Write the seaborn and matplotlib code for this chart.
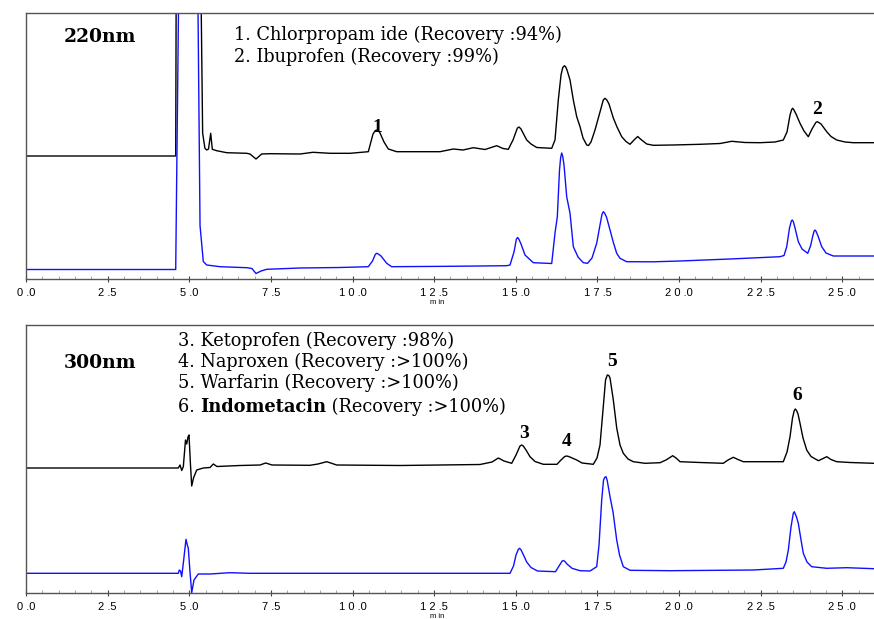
import numpy as np
import pandas as pd
import matplotlib
matplotlib.use("Agg")
import matplotlib.pyplot as plt
import seaborn as sns

# ---------------- data (retention time in min, detector signal above baseline) ----------------
t220_black = [0.0, 4.585, 4.62, 5.277, 5.41, 5.48, 5.535, 5.59, 5.657, 5.706, 5.84, 6.147, 6.76, 6.86,
              7.044, 7.219, 7.473, 8.392, 8.79, 9.311, 9.923, 10.484, 10.628, 10.70, 10.741, 10.80, 10.842, 10.965,
              11.097, 11.354, 12.68, 13.087, 13.384, 13.70, 14.058, 14.417, 14.61, 14.772, 14.916,
              15.05, 15.10, 15.16, 15.335, 15.467, 15.642, 16.101, 16.202, 16.303, 16.386, 16.44, 16.493, 16.53, 16.57, 16.662,
              16.763, 16.867, 16.968, 17.06, 17.173, 17.228, 17.305, 17.427, 17.58, 17.68, 17.734, 17.79, 17.856,
              17.988, 18.101, 18.245, 18.377, 18.499, 18.622, 18.735, 18.836, 19.011, 19.213, 19.816,
              20.643, 21.256, 21.614, 22.021, 22.481, 22.94, 23.194, 23.308, 23.40, 23.45, 23.482, 23.52, 23.583,
              23.706, 23.828, 23.96, 24.073, 24.19, 24.236, 24.28, 24.349, 24.524, 24.655, 24.83, 25.084, 25.338, 25.972]
s220_black = [0, 0, 400, 400, 23, 7.7, 6, 7, 22.7, 6.7, 5.3, 3.3, 2.7, 2,
              -3, 2, 2.3, 2, 3.7, 2.7, 2.7, 4.3, 22, 25.5, 26, 25, 23, 14,
              7, 4.3, 4.3, 7, 6, 8.3, 6.5, 10.3, 7.5, 6.7, 16,
              28, 29, 27, 16, 12, 8.5, 7.7, 16, 56, 81, 88.5, 90.3, 89, 86, 76,
              56, 39.3, 29.3, 18, 11, 10.5, 14, 26, 44, 56, 57.7, 56, 52,
              38, 29, 19.3, 14.5, 11.7, 16, 19.5, 16.5, 12, 10.7, 11,
              11.7, 12.5, 14.7, 13.5, 13.3, 14, 16, 24, 41, 46.5, 47.7, 46, 42,
              32.7, 25, 19.3, 27, 33.5, 34.3, 33.5, 32, 24.3, 19.5, 16, 14, 13.3, 13.3]

t220_blue = [0.0, 4.585, 4.717, 5.228, 5.33, 5.43, 5.535, 5.942, 6.76, 6.92, 7.044, 7.20, 7.372, 8.392,
             9.617, 10.484, 10.613, 10.70, 10.741, 10.79, 10.873, 11.047, 11.20, 12.986, 14.723, 14.824, 14.946,
             15.02, 15.06, 15.10, 15.161, 15.283, 15.538, 16.101, 16.202, 16.273, 16.34, 16.375, 16.407, 16.44, 16.478, 16.56,
             16.662, 16.763, 16.907, 17.069, 17.198, 17.335, 17.479, 17.58, 17.64, 17.681, 17.72, 17.779, 17.887,
             17.994, 18.092, 18.193, 18.398, 19.213, 20.031, 21.562, 23.094, 23.216, 23.299, 23.384,
             23.44, 23.47, 23.50, 23.553, 23.654, 23.767, 23.942, 24.028, 24.104, 24.14, 24.165, 24.20, 24.257, 24.371, 24.502,
             24.726, 25.972]
s220_blue = [0, 0, 400, 400, 44, 8, 4.5, 2.8, 1.8, 1, -4, -1.5, 0.2, 1.5,
             2, 2.8, 8.5, 15.2, 16.2, 15.5, 13.5, 6.2, 2.8, 3.2, 3.8, 4.5, 17.5,
             30.5, 32, 30, 25.5, 14.5, 6.8, 6, 36.5, 52.8, 99.5, 112, 116.5, 113, 104.5, 72.8,
             56.2, 22.8, 12.5, 6.8, 6.2, 11.5, 26.2, 44.5, 55, 57.8, 56.5, 52.5, 39.5,
             26.5, 16.2, 11.2, 7.8, 7.7, 8.5, 10.5, 12.8, 14, 22.8, 41.5,
             48.5, 49.5, 48, 41.5, 27.8, 20.5, 16.2, 23.5, 34.5, 38.5, 39.5, 38, 33.5, 22.8, 16.5,
             13.5, 13.5]

t300_black = [0.0, 4.665, 4.717, 4.769, 4.818, 4.885, 4.922, 4.962, 4.992, 5.038, 5.075, 5.13, 5.228,
              5.43, 5.636, 5.737, 5.85, 6.554, 7.167, 7.341, 7.534, 8.698, 8.943, 9.21, 9.516, 11.455,
              13.905, 14.273, 14.466, 14.64, 14.876, 15.008, 15.13, 15.182, 15.23, 15.314, 15.436, 15.59, 15.844,
              16.263, 16.386, 16.50, 16.56, 16.62, 16.692, 16.867, 17.029, 17.375, 17.489, 17.58, 17.672, 17.75, 17.804,
              17.85, 17.887, 17.988, 18.092, 18.193, 18.294, 18.438, 18.60, 18.959, 19.418, 19.602, 19.807,
              19.908, 20.031, 20.643, 21.357, 21.501, 21.663, 21.807, 21.969, 23.194, 23.308, 23.40,
              23.476, 23.53, 23.562, 23.60, 23.645, 23.706, 23.798, 23.911, 24.043, 24.27, 24.38, 24.524, 24.655,
              24.83, 25.237, 25.972]
s300_black = [0, 0, 3, -2.5, 1.3, 28, 24, 31, 33, 3, -18, -10, -2,
              0, 0.5, 4, 1.5, 2.5, 3, 5, 3, 2.7, 4, 6.3, 3, 2.5,
              3.5, 6, 10, 7, 4.7, 13, 22, 23, 22, 18, 11.3, 6.5, 3.7,
              3.7, 8, 11.5, 12, 11.5, 10.5, 8, 5, 3.7, 10, 23, 58, 88, 93,
              92.5, 90, 68, 40, 23, 14.7, 9, 6.3, 4.7, 5.3, 8, 12.3,
              10, 6.3, 5.5, 4.7, 8, 10.7, 8.5, 6.3, 6.3, 16, 31.3,
              50, 57.5, 59, 57.5, 54, 44.7, 30, 18, 11.5, 7.3, 9, 11.3, 8.5,
              6.3, 5.5, 4.7]

t300_blue = [0.0, 4.665, 4.695, 4.732, 4.769, 4.818, 4.87, 4.90, 4.94, 4.971, 5.023, 5.075, 5.145,
             5.277, 5.636, 6.248, 6.861, 11.455, 14.824, 14.931, 15.008, 15.08, 15.115, 15.16, 15.222, 15.335,
             15.467, 15.666, 16.217, 16.325, 16.42, 16.456, 16.50, 16.57, 16.723, 16.968, 17.274, 17.479, 17.55,
             17.632, 17.688, 17.73, 17.764, 17.80, 17.825, 17.887, 17.979, 18.092, 18.178, 18.294, 18.499, 19.724,
             22.276, 23.194, 23.277, 23.348, 23.43, 23.50, 23.531, 23.565, 23.599, 23.654, 23.737, 23.807, 23.92,
             24.064, 24.524, 25.136, 25.972]
s300_blue = [0, 0, 3.3, 2.3, -3.4, 10, 25.3, 34, 28.3, 25, 1.3, -19.4, -6.7,
             -0.7, -0.7, 0.6, 0, 0, 0, 7.3, 18.3, 24, 25, 23.5, 19.3, 11.3,
             5.8, 2.3, 1.6, 7.3, 12.2, 12.8, 12, 9.3, 5, 2.6, 2.3, 6.6, 28.3,
             73.3, 93.3, 96, 96.6, 93, 88.3, 76.6, 61.3, 33.3, 18.3, 6.6, 3, 2.6,
             3.3, 5, 11.3, 23.3, 46.3, 60, 61.6, 59, 56.3, 50, 33.3, 20, 11.3,
             6.6, 5, 5.6, 4.6]

tick_pos = [0.0, 2.5, 5.0, 7.5, 10.0, 12.5, 15.0, 17.5, 20.0, 22.5, 25.0]
tick_labels = ["0 .0", "2 .5", "5 .0", "7 .5", "1 0 .0", "1 2 .5", "1 5 .0", "1 7 .5",
               "2 0 .0", "2 2 .5", "2 5 .0"]

legend_220 = ["1. Chlorpropam ide (Recovery :94%)", "2. Ibuprofen (Recovery :99%)"]
legend_300 = ["3. Ketoprofen (Recovery :98%)", "4. Naproxen (Recovery :>100%)",
              "5. Warfarin (Recovery :>100%)"]
peak_labels_220 = ["1", "2"]
peak_labels_300 = ["3", "4", "5", "6"]

# ---------------- figure ----------------
sns.set_style("white")
plt.rcParams["text.color"] = "black"
plt.rcParams["xtick.color"] = "black"
W, H = 874, 619
fig = plt.figure(figsize=(W / 100, H / 100), dpi=100)

def px_axes(x0, y0, x1, y1):
    return fig.add_axes([x0 / W, 1 - y1 / H, (x1 - x0) / W, (y1 - y0) / H])

ax1 = px_axes(26, 13, 874, 279)
ax2 = px_axes(26, 325, 874, 593)

def build(tb, sb, tl, sl, off_b, off_l):
    d1 = pd.DataFrame({"t": tb, "y": np.array(sb) + off_b, "trace": "black"})
    d2 = pd.DataFrame({"t": tl, "y": np.array(sl) + off_l, "trace": "blue"})
    return pd.concat([d1, d2], ignore_index=True)

pal = {"black": "#000000", "blue": "#1010FF"}
df1 = build(t220_black, s220_black, t220_blue, s220_blue, 123, 9.5)
df2 = build(t300_black, s300_black, t300_blue, s300_blue, 125, 19.7)

for ax, df, ytop in [(ax1, df1, 266), (ax2, df2, 268)]:
    sns.lineplot(data=df, x="t", y="y", hue="trace", palette=pal, units="trace",
                 estimator=None, sort=False, lw=1.0, legend=False, ax=ax)
    ax.set_xlim(0, 25.972)
    ax.set_ylim(0, ytop)
    ax.set_xlabel("")
    ax.set_ylabel("")
    ax.set_yticks([])
    ax.set_xticks(tick_pos)
    ax.set_xticklabels(tick_labels, fontsize=8, family="Liberation Sans", color="black")
    ax.set_xticks(np.arange(0, 26, 0.5), minor=True)
    ax.tick_params(axis="x", which="major", direction="inout", length=5, width=0.8,
                   color="#444444", pad=4, bottom=True)
    ax.tick_params(axis="x", which="minor", direction="in", length=2, width=0.6,
                   color="#999999", bottom=True)
    for side in ["left", "top", "bottom"]:
        ax.spines[side].set_visible(True)
        ax.spines[side].set_color("#555555")
        ax.spines[side].set_linewidth(1.0)
    ax.spines["right"].set_visible(False)

serif = "DejaVu Serif"
LFS = 12.8

# panel titles
fig.text(100 / W, 1 - 37 / H, "220nm", fontsize=13.5, fontweight="bold", family=serif,
         ha="center", va="center", color="black")
fig.text(100 / W, 1 - 363 / H, "300nm", fontsize=13.5, fontweight="bold", family=serif,
         ha="center", va="center", color="black")

# legends
for i, s in enumerate(legend_220):
    fig.text(234 / W, 1 - (35 + 22 * i) / H, s, fontsize=LFS, family=serif, ha="left", va="center",
             color="black")
for i, s in enumerate(legend_300):
    fig.text(178 / W, 1 - (341 + 21 * i) / H, s, fontsize=LFS, family=serif, ha="left", va="center",
             color="black")
t6a = fig.text(178 / W, 1 - 407 / H, "6. ", fontsize=LFS, family=serif, ha="left", va="center",
               color="black")
fig.canvas.draw()
r = fig.canvas.get_renderer()
bb = t6a.get_window_extent(r)
t6b = fig.text(bb.x1 / W, 1 - 407 / H, "Indometacin", fontsize=LFS, family=serif,
               fontweight="bold", ha="left", va="center", color="black")
bb2 = t6b.get_window_extent(r)
fig.text(bb2.x1 / W, 1 - 407 / H, " (Recovery :>100%)", fontsize=LFS, family=serif,
         ha="left", va="center", color="black")

# peak labels
pk220 = [(10.76, 152), (24.22, 169)]
for lab, (x, y) in zip(peak_labels_220, pk220):
    ax1.text(x, y, lab, fontsize=14, fontweight="bold", family="Liberation Serif",
             ha="center", va="center", color="black")
pk300 = [(15.25, 160), (16.56, 152), (17.94, 231), (23.62, 197)]
for lab, (x, y) in zip(peak_labels_300, pk300):
    ax2.text(x, y, lab, fontsize=14, fontweight="bold", family="Liberation Serif",
             ha="center", va="center", color="black")

# axis unit labels
fig.text(437 / W, 1 - 303 / H, "m in", fontsize=5.5, family="Liberation Sans", ha="center", va="center",
         color="black")
fig.text(437 / W, 1 - 616 / H, "m in", fontsize=5.5, family="Liberation Sans", ha="center", va="center",
         color="black")

fig.savefig("out.png", dpi=100)
